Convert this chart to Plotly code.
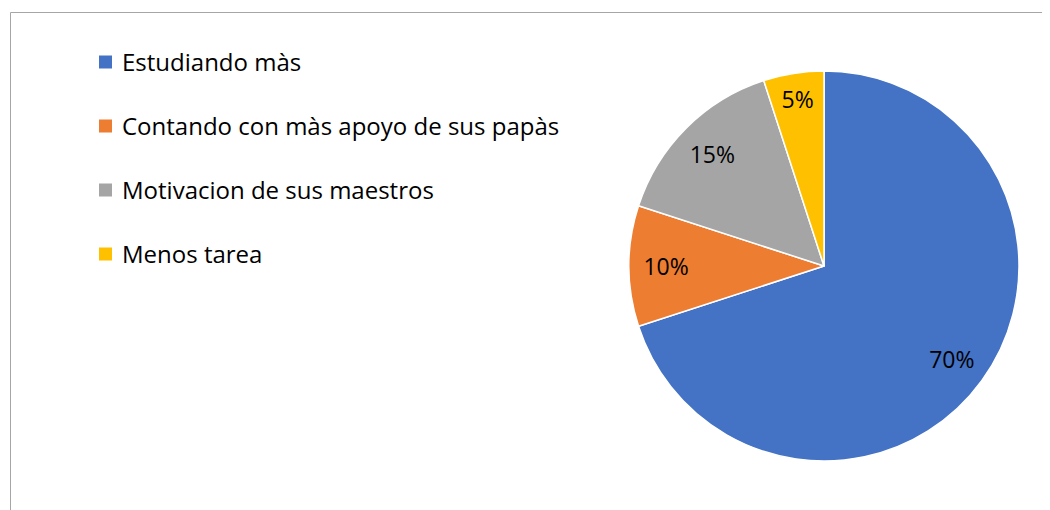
import plotly.graph_objects as go

labels = ["Estudiando màs", "Contando con màs apoyo de sus papàs", "Motivacion de sus maestros", "Menos tarea"]
values = [70, 10, 15, 5]
colors = ["#4472C4", "#ED7D31", "#A5A5A5", "#FFC000"]

W, H = 1050, 510
OFF = 8  # page body margin
FONT = "Open Sans"


def px(x):
    return (x - OFF) / W


def py(y):
    return (H - (y - OFF)) / H


cx, cy, r = 824, 266, 195
dom = dict(x=[px(cx - r), px(cx + r)], y=[py(cy + r), py(cy - r)])

fig = go.Figure()
fig.add_trace(go.Pie(
    labels=labels, values=values, sort=False, direction="clockwise", rotation=0,
    marker=dict(colors=colors, line=dict(color="white", width=1.5)),
    textinfo="none", showlegend=False, hoverinfo="label+percent", domain=dom,
))
# label layer: same slices as a transparent ring so the percentages sit in the outer part
fig.add_trace(go.Pie(
    labels=labels, values=values, sort=False, direction="clockwise", rotation=0, hole=0.62,
    marker=dict(colors=["rgba(0,0,0,0)"] * len(values), line=dict(width=0)),
    textinfo="percent", texttemplate="%{percent:.0%}", textposition="inside",
    insidetextorientation="horizontal",
    textfont=dict(family=FONT, size=23, color="#000000"),
    showlegend=False, hoverinfo="skip", domain=dom,
))

shapes = [dict(type="rect", xref="paper", yref="paper",
               x0=px(10.5), x1=1.2, y0=-0.2, y1=py(12.5),
               line=dict(color="#A6A6A6", width=1), fillcolor="rgba(0,0,0,0)", layer="below")]
annotations = []
row0, step = 62, 64
for i, (lab, col) in enumerate(zip(labels, colors)):
    yc = row0 + i * step
    shapes.append(dict(type="rect", xref="paper", yref="paper",
                       x0=px(99), x1=px(112), y0=py(yc + 6.5), y1=py(yc - 6.5),
                       line=dict(width=0), fillcolor=col))
    annotations.append(dict(text=lab, xref="paper", yref="paper", x=px(120), y=py(yc),
                            xanchor="left", yanchor="middle", showarrow=False,
                            font=dict(family=FONT, size=24, color="#000000")))

fig.update_layout(
    width=W, height=H, margin=dict(l=0, r=0, t=0, b=0),
    paper_bgcolor="white", plot_bgcolor="white",
    shapes=shapes, annotations=annotations,
)
fig.write_html("out.html")
